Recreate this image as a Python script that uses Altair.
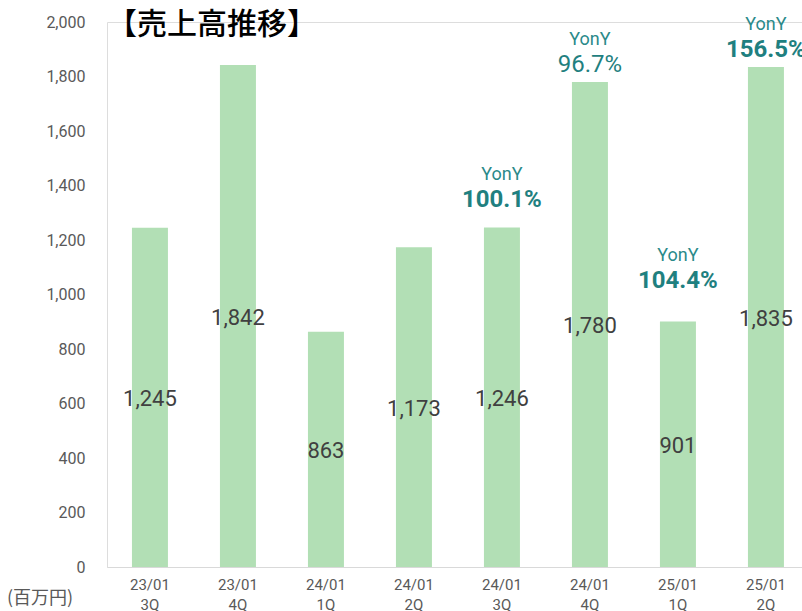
import altair as alt
import pandas as pd

quarters = ["23/01\n3Q", "23/01\n4Q", "24/01\n1Q", "24/01\n2Q",
            "24/01\n3Q", "24/01\n4Q", "25/01\n1Q", "25/01\n2Q"]
sales = [1245, 1842, 863, 1173, 1246, 1780, 901, 1835]
yoy = ["", "", "", "", "100.1%", "96.7%", "104.4%", "156.5%"]
yoy_word = ["", "", "", "", "YonY", "YonY", "YonY", "YonY"]
y_ticks = [0, 200, 400, 600, 800, 1000, 1200, 1400, 1600, 1800, 2000]
title_text = "【売上高推移】"
unit_text = "(百万円)"

df = pd.DataFrame({"q": quarters, "sales": sales, "yoy": yoy, "word": yoy_word})

W, H = 695, 545
PX = 2000 / H  # data units per pixel

xs = alt.X("q:N", sort=quarters, title=None,
           scale=alt.Scale(paddingInner=0.591, paddingOuter=0.2444, align=0.58, round=False),
           axis=alt.Axis(labelExpr="split(datum.label, '\\n')", labelAngle=0,
                         labelFontSize=15, labelColor="#595959", labelFont="Roboto",
                         labelLineHeight=20, labelPadding=10, ticks=False,
                         domainColor="#d9d9d9", domainWidth=1))
ys = alt.Y("sales:Q", title=None,
           scale=alt.Scale(domain=[0, 2000], nice=False),
           axis=alt.Axis(values=y_ticks, format=",d", grid=False, domain=False, ticks=False,
                         labelFontSize=16, labelColor="#595959", labelFont="Roboto",
                         labelPadding=22))

base = alt.Chart(df)

bars = base.mark_bar(color="#b2dfb5").encode(x=xs, y=ys)

vals = base.transform_calculate(mid="datum.sales / 2").mark_text(
    font="Roboto", fontSize=22, color="#404040", baseline="middle", dy=2
).encode(x=alt.X("q:N", sort=quarters), y=alt.Y("mid:Q"), text=alt.Text("sales:Q", format=",d"))

ann = base.transform_filter("datum.yoy != ''").transform_calculate(
    ay=f"datum.sales + (datum.sales > 1700 ? 17 : (datum.sales < 1000 ? 40 : 27)) * {PX}"
)

pct_bold = ann.transform_filter("datum.yoy != '96.7%'").mark_text(
    font="Roboto", fontSize=24, fontWeight="bold", color="#1f8080", baseline="middle"
).encode(x=alt.X("q:N", sort=quarters), y=alt.Y("ay:Q"), text="yoy:N")

pct_norm = ann.transform_filter("datum.yoy == '96.7%'").mark_text(
    font="Roboto", fontSize=24, color="#1f8080", baseline="middle"
).encode(x=alt.X("q:N", sort=quarters), y=alt.Y("ay:Q"), text="yoy:N")

word = ann.mark_text(
    font="Roboto", fontSize=18, color="#2a8a8a", baseline="middle", dy=-25
).encode(x=alt.X("q:N", sort=quarters), y=alt.Y("ay:Q"), text="word:N")

title = alt.Chart(pd.DataFrame({"t": [title_text]})).mark_text(
    font="Noto Sans CJK JP", fontSize=30, fontWeight=500, color="#000000",
    align="center", baseline="middle"
).encode(x=alt.value(105), y=alt.value(3), text="t:N")

unit = alt.Chart(pd.DataFrame({"t": [unit_text]})).mark_text(
    font="Noto Sans CJK JP", fontSize=18, color="#595959",
    align="center", baseline="middle"
).encode(x=alt.value(-67), y=alt.value(577), text="t:N")

chart = alt.layer(bars, vals, pct_bold, pct_norm, word, title, unit).properties(
    width=W, height=H,
    autosize=alt.AutoSizeParams(type="none"),
    padding={"left": 107, "top": 22, "right": 0, "bottom": 44},
).configure_view(stroke=None).configure(background="white")

chart.save("out.html", embed_options={"renderer": "svg", "actions": False})
